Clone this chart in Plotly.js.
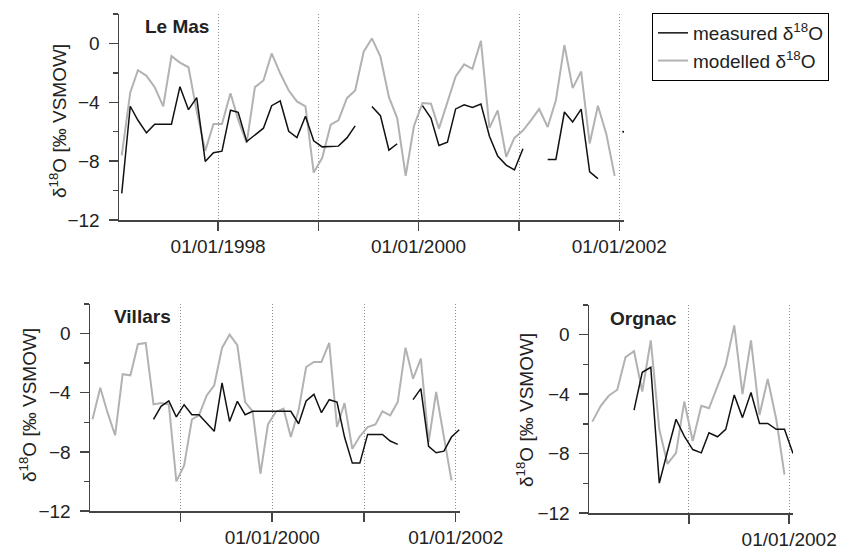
<!DOCTYPE html>
<html>
<head>
<meta charset="utf-8">
<script src="https://cdn.plot.ly/plotly-3.0.1.min.js"></script>
<style>html,body{margin:0;padding:0;background:#fff;}#chart{width:842px;height:549px;}</style>
</head>
<body>
<div id="chart"></div>
<script>
// ---- data (monthly samples, plotted mid-month) ----
const leMasStart = [1997, 1];
const leMasModelled = [-7.6,-3.33,-1.82,-2.2,-2.97,-4.28,-0.86,-1.3,-1.62,-4.6,-7.3,-5.47,
  -5.47,-3.38,-5.18,-6.76,-2.97,-2.52,-0.68,-2.03,-3.2,-3.94,-4.28,-8.78,
  -7.77,-5.52,-5.23,-3.72,-3.2,-0.56,0.34,-0.9,-3.65,-5.07,-9.0,-5.63,
  -4.05,-4.1,-5.79,-3.94,-2.25,-1.42,-1.73,0.18,-5.74,-4.55,-7.7,-6.42,
  -5.92,-5.18,-4.46,-5.68,-3.87,-0.11,-3.04,-1.91,-6.8,-4.23,-6.19,-9.0];
const leMasMeasured = [-10.19,-4.27,-5.22,-6.08,-5.49,-5.49,-5.49,-2.94,-4.5,-3.68,-8.02,-7.43,
  -7.32,-4.54,-4.68,-6.67,-6.24,-5.76,-4.23,-3.91,-5.97,-6.4,-4.95,-6.62,
  -7.03,-6.98,-6.98,-6.42,-5.6,null,-4.28,-4.91,-7.25,-6.82,null,null,
  -4.23,-5.07,-6.94,-6.71,-4.45,-4.17,-4.35,-4.12,-6.31,-7.66,-8.27,-8.6,
  -7.16,null,null,-7.88,-7.88,-4.66,-5.34,-4.46,-8.72,-9.19,null,null,
  -6.0];

const villarsStart = [1998, 1];
const villarsModelled = [-5.8,-3.66,-5.3,-6.88,-2.75,-2.82,-0.72,-0.63,-4.79,-4.7,-4.79,-10.0,
  -8.92,-5.8,-5.53,-4.18,-3.5,-0.97,-0.07,-0.79,-4.63,-5.26,-9.48,-6.14,
  -5.3,-5.08,-7.0,-5.19,-2.26,-1.92,-1.92,-0.63,-6.32,-4.7,-7.79,-6.95,
  -6.32,-6.14,-5.26,-5.53,-4.63,-0.95,-3.05,-1.69,-7.34,-3.95,-7.0,-9.93];
const villarsMeasured = [null,null,null,null,null,null,null,null,-5.8,-4.92,-4.56,-5.64,
  -4.81,-5.49,-5.49,-6.05,-6.61,-3.34,-5.94,-4.58,-5.49,-5.26,-5.26,-5.26,
  -5.26,-5.26,-5.26,-6.1,-4.56,-4.11,-5.35,-4.47,-4.63,-7.0,-8.76,-8.76,
  -6.82,-6.82,-6.82,-7.27,-7.49,null,-4.47,-3.72,-7.63,-8.06,-7.95,-7.0,
  -6.5];

const orgnacStart = [2000, 1];
const orgnacModelled = [-5.85,-4.79,-4.11,-3.7,-1.51,-1.11,-3.82,-0.38,-6.37,-8.7,-7.95,-4.5,
  -7.16,-4.79,-4.95,-3.48,-2.03,0.63,-4.0,-0.38,-5.4,-2.98,-5.69,-9.42];
const orgnacMeasured = [null,null,null,null,null,-5.08,-2.53,-2.19,-9.99,-7.84,-5.69,-6.82,
  -7.73,-7.95,-6.6,-6.87,-6.37,-4.05,-5.58,-3.89,-5.97,-5.97,-6.37,-6.37,
  -8.0];

const siteNames = ["Le Mas", "Villars", "Orgnac"];
const seriesNames = ["measured δ<sup>18</sup>O", "modelled δ<sup>18</sup>O"];
const yTitle = "δ<sup>18</sup>O [‰ VSMOW]";
const dateTickFormat = "%d/%m/%Y";   // labels like 01/01/2000, every second year

// ---- helpers ----
function monthDates(start, n) {
  const out = [];
  for (let i = 0; i < n; i++) {
    const t = start[0] * 12 + (start[1] - 1) + i;
    const y = Math.floor(t / 12), m = t % 12 + 1;
    out.push(y + "-" + String(m).padStart(2, "0") + "-15");
  }
  return out;
}
function isolated(x, y) {
  const xs = [], ys = [];
  y.forEach((v, i) => {
    if (v !== null && (i === 0 || y[i-1] === null) && (i === y.length - 1 || y[i+1] === null)) {
      xs.push(x[i]); ys.push(v);
    }
  });
  return {x: xs, y: ys};
}

const FONT = "Liberation Sans, Arial, sans-serif";
const MEAS_COLOR = "#111111";
const MOD_COLOR = "#b2b2b2";
const AX = "#444444";
const TICK_SIZE = 19;

const traces = [];
function addSite(start, modelled, measured, xa, ya, legend) {
  const xm = monthDates(start, modelled.length);
  const xo = monthDates(start, measured.length);
  traces.push({x: xm, y: modelled, xaxis: xa, yaxis: ya, type: "scatter", mode: "lines",
    name: seriesNames[1], legendrank: 2, showlegend: legend,
    line: {color: MOD_COLOR, width: 2}, hoverinfo: "skip"});
  traces.push({x: xo, y: measured, xaxis: xa, yaxis: ya, type: "scatter", mode: "lines",
    name: seriesNames[0], legendrank: 1, showlegend: legend,
    line: {color: MEAS_COLOR, width: 1.5}, hoverinfo: "skip"});
  const iso = isolated(xo, measured);
  if (iso.x.length) {
    traces.push({x: iso.x, y: iso.y, xaxis: xa, yaxis: ya, type: "scatter", mode: "markers",
      showlegend: false, marker: {color: MEAS_COLOR, size: 2}, hoverinfo: "skip"});
  }
}
addSite(leMasStart, leMasModelled, leMasMeasured, "x", "y", true);
addSite(villarsStart, villarsModelled, villarsMeasured, "x2", "y2", false);
addSite(orgnacStart, orgnacModelled, orgnacMeasured, "x3", "y3", false);

const W = 842, H = 549;
const GRID = {gridcolor: "#8c8c8c", griddash: "1px,2px", gridwidth: 1};
function xAxis(l, r, range, anchor) {
  return Object.assign({
    domain: [l / W, r / W], type: "date", range: range, anchor: anchor,
    tickmode: "linear", tick0: "2000-01-01", dtick: "M24", tickformat: dateTickFormat,
    ticks: "outside", ticklen: 9, tickwidth: 1.5, tickcolor: AX,
    minor: Object.assign({tickmode: "linear", tick0: "2000-01-01", dtick: "M12", ticks: "outside",
      ticklen: 9, tickwidth: 1.5, tickcolor: AX, showgrid: true}, GRID),
    showline: true, linecolor: AX, linewidth: 1.5,
    showgrid: true,
    zeroline: false, tickfont: {family: FONT, size: TICK_SIZE, color: "#222"},
    fixedrange: true
  }, GRID);
}
function yAxis(top, bottom, anchor) {
  return {
    domain: [1 - bottom / H, 1 - top / H], anchor: anchor, range: [-12, 2],
    tickmode: "linear", tick0: 0, dtick: 4,
    ticks: "outside", ticklen: 9, tickwidth: 1.5, tickcolor: AX,
    minor: {tickmode: "linear", tick0: 0, dtick: 2, ticks: "outside", ticklen: 5, tickwidth: 1.5, tickcolor: AX, showgrid: false},
    showline: true, linecolor: AX, linewidth: 1.5,
    showgrid: false, zeroline: false, ticklabelstandoff: 5,
    tickfont: {family: FONT, size: TICK_SIZE, color: "#222"},
    fixedrange: true
  };
}
function label(text, x, y, opts) {
  return Object.assign({text: text, xref: "paper", yref: "paper", x: x / W, y: 1 - y / H,
    showarrow: false, font: {family: FONT, size: 19, color: "#222"}}, opts);
}

const layout = {
  width: W, height: H,
  margin: {l: 0, r: 0, t: 0, b: 0},
  paper_bgcolor: "#fff", plot_bgcolor: "#fff",
  font: {family: FONT, color: "#222"},
  showlegend: true,
  xaxis: xAxis(119, 624, ["1997-01-05", "2002-01-18"], "y"),
  yaxis: yAxis(14, 220, "x"),
  xaxis2: xAxis(90, 460, ["1998-01-05", "2002-01-18"], "y2"),
  yaxis2: yAxis(304, 511, "x2"),
  xaxis3: xAxis(589, 793, ["2000-01-03", "2002-01-15"], "y3"),
  yaxis3: yAxis(305, 513, "x3"),
  legend: {
    x: 652 / W, y: 1 - 13 / H, xanchor: "left", yanchor: "top",
    bgcolor: "#fff", bordercolor: "#000", borderwidth: 1,
    font: {family: FONT, size: 19, color: "#222"},
    itemwidth: 30, traceorder: "normal"
  },
  annotations: [
    label("<b>" + siteNames[0] + "</b>", 143, 26, {xanchor: "left", yanchor: "middle"}),
    label("<b>" + siteNames[1] + "</b>", 112, 316, {xanchor: "left", yanchor: "middle"}),
    label("<b>" + siteNames[2] + "</b>", 608, 318, {xanchor: "left", yanchor: "middle"}),
    label(yTitle, 58, 121, {textangle: -90, xanchor: "center", yanchor: "middle"}),
    label(yTitle, 28, 405, {textangle: -90, xanchor: "center", yanchor: "middle"}),
    label(yTitle, 525, 410, {textangle: -90, xanchor: "center", yanchor: "middle"})
  ]
};

Plotly.newPlot("chart", traces, layout, {staticPlot: true, displayModeBar: false});
</script>
</body>
</html>
